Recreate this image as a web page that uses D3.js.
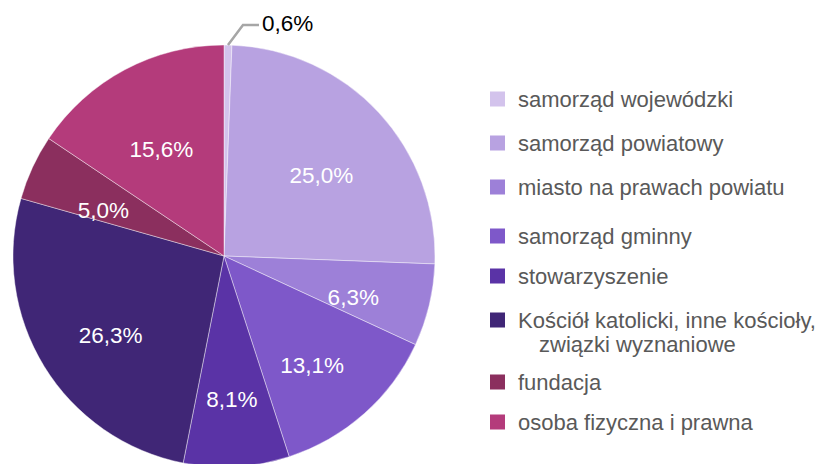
<!DOCTYPE html>
<html><head><meta charset="utf-8">
<script src="https://cdn.jsdelivr.net/npm/d3@7"></script>
<style>body{margin:0;background:#fff}svg{display:block}text{font-family:"Liberation Sans",Arial,sans-serif}</style>
</head><body>
<svg id="c" width="821" height="464"></svg>
<script>
const categories = ["samorząd wojewódzki","samorząd powiatowy","miasto na prawach powiatu","samorząd gminny","stowarzyszenie","Kościół katolicki, inne kościoły,\nzwiązki wyznaniowe","fundacja","osoba fizyczna i prawna"];
const values = [0.6,25.0,6.3,13.1,8.1,26.3,5.0,15.6];
const labels = ["0,6%","25,0%","6,3%","13,1%","8,1%","26,3%","5,0%","15,6%"];
const colors = ["#D3C3EC","#B8A2E1","#9D80D8","#7E58C9","#5A33A6","#402676","#8B2F5E","#B43B7B"];

const svg = d3.select("#c");
const cx = 224, cy = 256, r = 211;
const g = svg.append("g").attr("transform",`translate(${cx},${cy})`);
const pie = d3.pie().sort(null).value(d=>d);
const arcs = pie(values);
const arc = d3.arc().innerRadius(0).outerRadius(r);
g.selectAll("path").data(arcs).join("path")
  .attr("d",arc).attr("fill",(d,i)=>colors[i])
  .attr("stroke","#fff").attr("stroke-width",0.7).attr("stroke-opacity",0.6);

const lab = d3.arc().innerRadius(r*0.63).outerRadius(r*0.63);
g.selectAll("text.v").data(arcs.slice(1)).join("text").attr("class","v")
  .attr("transform",d=>{const c=lab.centroid(d);return `translate(${c[0]},${c[1]+10})`;})
  .attr("text-anchor","middle").attr("dy","0.35em")
  .attr("font-size",22.5)
  .attr("fill","#fff").text((d,i)=>labels[i+1]);

// outside label for smallest slice
const a0 = arcs[0];
const mid = (a0.startAngle+a0.endAngle)/2;
const p1 = [Math.sin(mid)*r, -Math.cos(mid)*r];
const p2 = [p1[0]+15, -cy+25];
const p3 = [p2[0]+16, p2[1]];
g.append("polyline").attr("points",[p1,p2,p3].map(p=>p.join(",")).join(" "))
  .attr("fill","none").attr("stroke","#A6A6A6").attr("stroke-width",2.5);
g.append("text").attr("x",p3[0]+3).attr("y",p3[1]-2).attr("dy","0.35em")
  .attr("font-size",22.5)
  .attr("fill","#000").text(labels[0]);

// legend
const legY = [99,143,187,236,276,320,382,422];
const leg = svg.append("g");
categories.forEach((c,i)=>{
  leg.append("rect").attr("x",490).attr("y",legY[i]-7.5).attr("width",15).attr("height",15).attr("fill",colors[i]);
  const t = leg.append("text").attr("x",518).attr("y",legY[i])
    .attr("font-size",22).attr("fill","#595959");
  c.split("\n").forEach((line,j)=>{
    t.append("tspan").attr("x",j? 539:518).attr("dy", j? "1.1em":"0.35em").text(line);
  });
});
</script>
</body></html>
